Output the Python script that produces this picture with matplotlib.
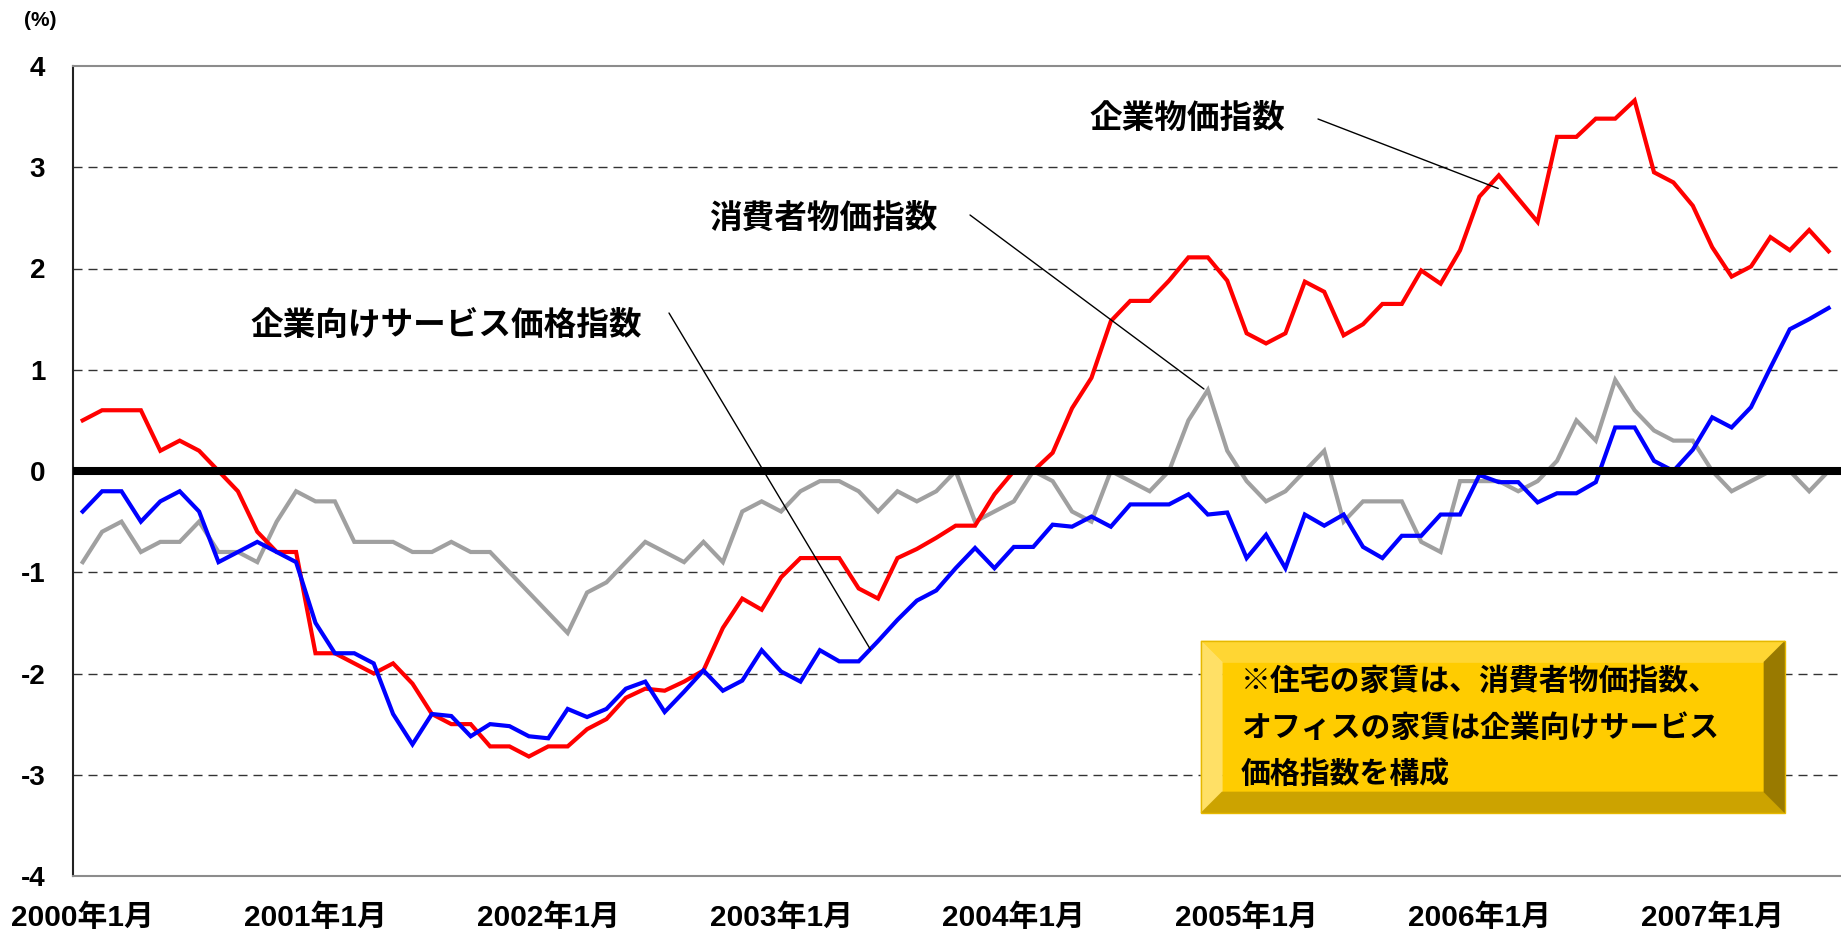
import matplotlib
matplotlib.use("Agg")
import matplotlib.pyplot as plt
from matplotlib.patches import Polygon

# ---- data: year-on-year change (%), monthly from 2000/1 to 2007/7 ----
year_labels = ["2000年1月", "2001年1月", "2002年1月", "2003年1月",
               "2004年1月", "2005年1月", "2006年1月", "2007年1月"]

# 企業物価指数
cgpi = [0.5, 0.6, 0.6, 0.6, 0.2, 0.3, 0.2, 0.0, -0.2, -0.6, -0.8, -0.8,
        -1.8, -1.8, -1.9, -2.0, -1.9, -2.1, -2.4, -2.5, -2.5, -2.72, -2.72, -2.82,
        -2.72, -2.72, -2.55, -2.45, -2.24, -2.15, -2.17, -2.08, -1.97, -1.55, -1.26, -1.37,
        -1.05, -0.86, -0.86, -0.86, -1.16, -1.26, -0.86, -0.77, -0.66, -0.54, -0.54, -0.23,
        0.0, 0.0, 0.18, 0.62, 0.92, 1.48, 1.68, 1.68, 1.88, 2.11, 2.11, 1.88,
        1.36, 1.26, 1.36, 1.87, 1.77, 1.34, 1.45, 1.65, 1.65, 1.98, 1.85, 2.18,
        2.71, 2.92, 2.69, 2.46, 3.30, 3.30, 3.48, 3.48, 3.66, 2.95, 2.85, 2.62,
        2.21, 1.92, 2.02, 2.31, 2.18, 2.38, 2.17]

# 消費者物価指数
cpi = [-0.9, -0.6, -0.5, -0.8, -0.7, -0.7, -0.5, -0.8, -0.8, -0.9, -0.5, -0.2,
       -0.3, -0.3, -0.7, -0.7, -0.7, -0.8, -0.8, -0.7, -0.8, -0.8, -1.0, -1.2,
       -1.4, -1.6, -1.2, -1.1, -0.9, -0.7, -0.8, -0.9, -0.7, -0.9, -0.4, -0.3,
       -0.4, -0.2, -0.1, -0.1, -0.2, -0.4, -0.2, -0.3, -0.2, 0.0, -0.5, -0.4,
       -0.3, 0.0, -0.1, -0.4, -0.5, 0.0, -0.1, -0.2, 0.0, 0.5, 0.8, 0.2,
       -0.1, -0.3, -0.2, 0.0, 0.2, -0.5, -0.3, -0.3, -0.3, -0.7, -0.8, -0.1,
       -0.1, -0.1, -0.2, -0.1, 0.1, 0.5, 0.3, 0.9, 0.6, 0.4, 0.3, 0.3,
       0.0, -0.2, -0.1, 0.0, 0.0, -0.2, 0.0]

# 企業向けサービス価格指数
cspi = [-0.4, -0.2, -0.2, -0.5, -0.3, -0.2, -0.4, -0.9, -0.8, -0.7, -0.8, -0.9,
        -1.5, -1.8, -1.8, -1.9, -2.4, -2.7, -2.4, -2.42, -2.62, -2.5, -2.52, -2.62,
        -2.64, -2.35, -2.43, -2.35, -2.15, -2.08, -2.38, -2.18, -1.97, -2.17, -2.07, -1.77,
        -1.98, -2.08, -1.77, -1.88, -1.88, -1.68, -1.47, -1.28, -1.18, -0.96, -0.76, -0.96,
        -0.75, -0.75, -0.53, -0.55, -0.45, -0.55, -0.33, -0.33, -0.33, -0.23, -0.43, -0.41,
        -0.86, -0.63, -0.96, -0.43, -0.54, -0.43, -0.75, -0.86, -0.64, -0.64, -0.43, -0.43,
        -0.04, -0.11, -0.11, -0.31, -0.22, -0.22, -0.11, 0.43, 0.43, 0.10, 0.0, 0.21,
        0.53, 0.43, 0.63, 1.02, 1.40, 1.50, 1.61]

y_ticks = [-4, -3, -2, -1, 0, 1, 2, 3, 4]

# ---- figure ----
W, H, DPI = 1841, 932, 100
plt.rcParams['font.family'] = ['Liberation Sans', 'Noto Sans CJK JP']
fig = plt.figure(figsize=(W / DPI, H / DPI), dpi=DPI, facecolor='white')


def fx(px):
    return px / W


def fy(py):
    return 1 - py / H


left, right, top, bottom = 73, 1848, 66, 876
ax = fig.add_axes([fx(left), fy(bottom), (right - left) / W, (bottom - top) / H])

idx = list(range(len(cgpi)))
ax.plot(idx, cpi, color='#a0a0a0', lw=3.0, zorder=3, solid_joinstyle='miter')
ax.plot(idx, cgpi, color='#ff0000', lw=3.0, zorder=4, solid_joinstyle='miter')
ax.plot(idx, cspi, color='#0000ff', lw=3.0, zorder=5, solid_joinstyle='miter')
ax.axhline(0, color='black', lw=5.8, zorder=6)

ax.set_xlim(-0.5, 91.0)
ax.set_ylim(-4, 4)
ax.set_yticks(y_ticks)
ax.set_yticklabels([str(v) for v in y_ticks], fontsize=20, fontweight='bold')
ax.set_xticks([12 * i for i in range(len(year_labels))])
ax.set_xticklabels(year_labels, fontsize=21.5, fontweight='bold')
ax.tick_params(axis='y', length=0, pad=20)
ax.tick_params(axis='x', length=0, pad=20)

for v in [-3, -2, -1, 1, 2, 3]:
    ax.axhline(v, color='#333333', lw=1.0, linestyle=(0, (6.5, 4.3)), zorder=1)

ax.spines['right'].set_visible(False)
ax.spines['left'].set_color('#222222')
ax.spines['left'].set_linewidth(1.5)
for s in ('top', 'bottom'):
    ax.spines[s].set_color('#8c8c8c')
    ax.spines[s].set_linewidth(1.5)

# unit label
fig.text(fx(40), fy(21), "(%)", fontsize=15, fontweight='bold', ha='center', va='center')

# series labels with leader lines
label_kw = dict(fontsize=23.5, fontweight='bold', ha='center', va='center',
                family=['Noto Sans CJK JP'])
fig.text(fx(1187), fy(118), "企業物価指数", **label_kw)
fig.text(fx(823), fy(218), "消費者物価指数", **label_kw)
fig.text(fx(446), fy(325), "企業向けサービス価格指数", **label_kw)

leader = dict(arrowstyle='-', color='black', lw=1.0, shrinkA=0, shrinkB=0)
for start, tip in [((1318, 119), (72.97, 2.79)),
                   ((970, 215), (57.8, 0.81)),
                   ((669, 313), (40.6, -1.76))]:
    ax.annotate('', xy=tip, xycoords='data',
                xytext=(fx(start[0]), fy(start[1])), textcoords='figure fraction',
                arrowprops=leader, annotation_clip=False, zorder=7)

# bevelled note box
x0, x1, y0, y1, b = 1201, 1785, 641, 813, 21
faces = [
    ([(x0 + b, y0 + b), (x1 - b, y0 + b), (x1 - b, y1 - b), (x0 + b, y1 - b)], '#ffcc00'),
    ([(x0, y0), (x1, y0), (x1 - b, y0 + b), (x0 + b, y0 + b)], '#ffd633'),
    ([(x0, y0), (x0 + b, y0 + b), (x0 + b, y1 - b), (x0, y1)], '#ffe066'),
    ([(x0, y1), (x0 + b, y1 - b), (x1 - b, y1 - b), (x1, y1)], '#cca300'),
    ([(x1, y0), (x1, y1), (x1 - b, y1 - b), (x1 - b, y0 + b)], '#997a00'),
]
for pts, col in faces:
    fig.add_artist(Polygon([(fx(px), fy(py)) for px, py in pts], closed=True,
                           transform=fig.transFigure, facecolor=col,
                           edgecolor=col, lw=0.5, zorder=8))
fig.add_artist(Polygon([(fx(x0), fy(y0)), (fx(x1), fy(y0)), (fx(x1), fy(y1)), (fx(x0), fy(y1))],
                       closed=True, transform=fig.transFigure, facecolor='none',
                       edgecolor='#e6b800', lw=1.0, zorder=9))

note_lines = ["※住宅の家賃は、消費者物価指数、",
              "オフィスの家賃は企業向けサービス",
              "価格指数を構成"]
for line, py in zip(note_lines, [681, 728, 774]):
    fig.text(fx(1241), fy(py), line, fontsize=21.5, fontweight='bold', ha='left',
             va='center', family=['Noto Sans CJK JP'], zorder=10)

fig.savefig("out.png", dpi=DPI, facecolor='white')
